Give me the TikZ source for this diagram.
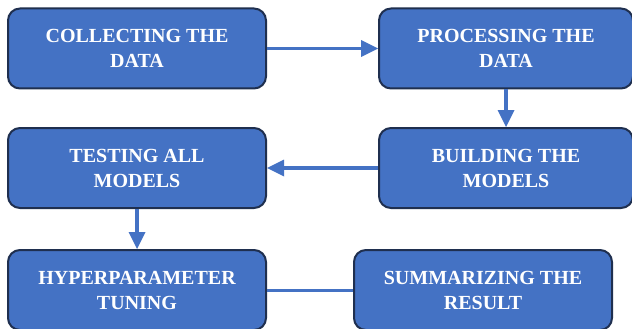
\documentclass[tikz,border=0pt]{standalone}
\usepackage{fontspec}
\setmainfont{Liberation Serif}
\usepackage{tikz}
\usetikzlibrary{arrows.meta,positioning}

\definecolor{boxblue}{HTML}{4472C4}
\definecolor{boxedge}{HTML}{1F2F4F}

\begin{document}
\begin{tikzpicture}[x=1pt, y=1pt, on grid, auto,
   stage/.style = {draw=boxedge, line width=2pt, fill=boxblue, rounded corners=12pt,
                   minimum width=258pt, minimum height=80pt, align=center, text=white,
                   font=\bfseries\fontsize{20}{25}\selectfont},
   flow/.style = {draw=boxblue, line width=3.5pt,
                  -{Triangle[length=17pt, width=17pt, line width=0pt, fill=boxblue]}}]
   \useasboundingbox (0,0) rectangle (632,-329);
   \node[stage] (s_1) at (137,-48.5) {COLLECTING THE\\DATA};
   \node[stage, minimum width=254pt] (s_2) [right = 369pt of s_1] {PROCESSING THE\\DATA};
   \node[stage, minimum width=254pt] (s_3) [below = 119.5pt of s_2] {BUILDING THE\\MODELS};
   \node[stage] (s_4) [below = 119.5pt of s_1] {TESTING ALL\\MODELS};
   \node[stage] (s_5) [below = 122pt of s_4] {HYPERPARAMETER\\TUNING};
   \node[stage] (s_6) [right = 346pt of s_5] {SUMMARIZING THE\\RESULT};
   \draw[flow] (s_1) -- (s_2);
   \draw[flow] (s_2) -- (s_3);
   \draw[flow] (s_3) -- (s_4);
   \draw[flow] (s_4) -- (s_5);
   \draw[boxblue, line width=3pt] (s_5) -- (s_6);
\end{tikzpicture}
\end{document}
